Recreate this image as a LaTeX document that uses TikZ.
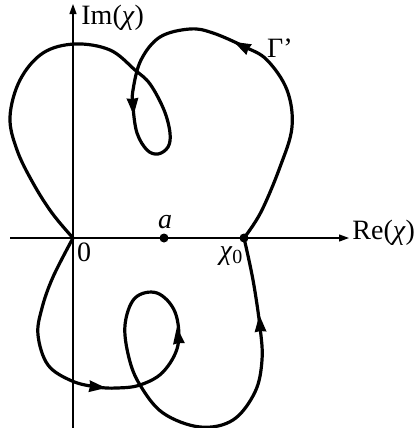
\documentclass[tikz,border=0pt]{standalone}
\usepackage{fontspec}
\setmainfont{Liberation Serif}
\usetikzlibrary{arrows.meta}
\begin{document}
\begin{tikzpicture}[x=0.5pt,y=-0.5pt,
  curve/.style={line width=1.6pt, line join=round, line cap=round},
  axis/.style={line width=0.6pt, -{Triangle[length=5pt,width=3.5pt]}},
  lbl/.style={inner sep=0pt, font=\fontsize{14}{16}\selectfont},
  dot/.style={circle, fill, inner sep=0pt, minimum size=4.5pt}]
\newcommand\arrhd[3]{\fill[shift={(#1,#2)}, rotate=#3] (9,0) -- (-8,6) -- (-7,0) -- (-8,-6) -- cycle;}
\newcommand\chisym{\textit{χ}}
\useasboundingbox (0,0) rectangle (415,428);
% axes
\coordinate (xs) at (10,238);
\coordinate (xe) at (349,238);
\coordinate (ys) at (73,428);
\coordinate (ye) at (73,4);
\draw[axis] (xs) -- (xe);
\draw[axis] (ys) -- (ye);
% lower part
\draw[curve] plot[smooth, tension=0.6] coordinates {
 (73,238) (53,277) (42,308) (38,335) (48,365) (72,381) (97,387) (117,388) (140,385)
 (163,372) (178,345) (175,312) (157,293) (135,298) (125,325) (129,358) (140,385)
 (163,413) (200,427) (233,420) (255,392) (262,360) (260,327) (253,280) (244,238)};
% upper part
\draw[curve] plot[smooth, tension=0.6] coordinates {
 (244,238) (261,212) (280,167) (292,127) (287,90) (267,60) (245,47) (213,33) (190,29)
 (160,37) (141,60) (133,90) (133,107) (137,133) (147,150) (158,154) (168,147) (170,133)
 (164,110) (150,84) (135,70) (110,50) (75,44) (43,53) (20,80) (10,117) (17,150) (33,183)
 (52,213) (73,238)};
% arrowheads
\arrhd{242}{46}{153}
\arrhd{133}{106}{-86}
\arrhd{97}{387}{-6}
\arrhd{178}{336}{97}
\arrhd{260}{324}{94}
% points and labels
\node[dot] (a) at (164,238) {};
\node[dot] (x0) at (244,238) {};
\node[lbl] (la) at (165,222) {\textit{a}};
\node[lbl] (lx0) at (231,256) {\chisym\raisebox{-0.35ex}{\fontsize{10}{12}\selectfont 0}};
\node[lbl] (l0) at (84,252) {0};
\node[lbl, anchor=west] (re) at (352,233) {Re(\chisym)};
\node[lbl, anchor=west] (im) at (81,18) {Im(\chisym)};
\node[lbl] (g) at (280,48) {Γ’};
\end{tikzpicture}
\end{document}
